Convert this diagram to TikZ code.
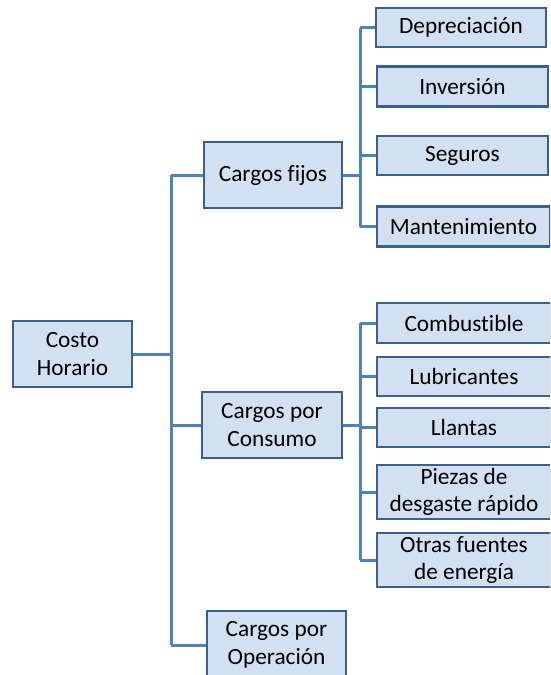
\documentclass[tikz,border=0pt]{standalone}
\usepackage{fontspec}
\setmainfont[Ligatures=NoCommon]{Carlito}
\definecolor{boxfill}{HTML}{D3E0F2}
\definecolor{boxdraw}{HTML}{3B6090}
\definecolor{conncol}{HTML}{4F81BD}
\begin{document}
\begin{tikzpicture}[x=1pt,y=1pt,
  box/.style={draw=boxdraw, fill=boxfill, line width=2.5pt, inner sep=0pt, align=center,
    font=\fontsize{23.3}{27.5}\selectfont, text=black},
  conn/.style={draw=conncol, line width=3pt}]
\useasboundingbox (0,0) rectangle (550,-675);
\begin{scope}
\clip (0,0) rectangle (550,-675);
% bus coordinates
\coordinate (mtop) at (171,-175);
\coordinate (mbot) at (171,-645);
\coordinate (ftop) at (360,-27.5);
\coordinate (fbot) at (360,-226.5);
\coordinate (ctop) at (360,-323);
\coordinate (cbot) at (360,-560);
% nodes
\node[box, minimum width=119pt, minimum height=66pt] (costo) at (72.5,-354) {Costo\\Horario};
\node[box, minimum width=138pt, minimum height=66pt] (fijos) at (273,-175) {Cargos fijos};
\node[box, minimum width=140pt, minimum height=66pt] (consumo) at (272,-425) {Cargos por\\Consumo};
\node[box, minimum width=139pt, minimum height=68pt] (operacion) at (276.5,-645) {Cargos por\\Operación};
\node[box, minimum width=170pt, minimum height=39pt] (dep) at (461,-27.5) {Depreciación};
\node[box, minimum width=171pt, minimum height=40pt] (inv) at (462.5,-86.5) {Inversión};
\node[box, minimum width=171pt, minimum height=39pt] (seg) at (462.5,-155.5) {Seguros};
\node[box, minimum width=173pt, minimum height=40pt] (man) at (463.5,-226.5) {Mantenimiento};
\node[box, minimum width=174pt, minimum height=40pt] (comb) at (464,-323) {Combustible};
\node[box, minimum width=174pt, minimum height=39pt] (lub) at (464,-376.5) {Lubricantes};
\node[box, minimum width=174pt, minimum height=39pt] (lla) at (464,-427.5) {Llantas};
\node[box, minimum width=174pt, minimum height=54pt] (pie) at (464,-492) {Piezas de\\desgaste rápido};
\node[box, minimum width=174pt, minimum height=54pt] (otr) at (464,-560) {Otras fuentes\\de energía};
% main bus
\draw[conn] (mtop) -- (mbot);
\draw[conn] (costo.east) -- (costo.east -| mtop);
\draw[conn] (fijos.west) -- (mtop);
\draw[conn] (consumo.west) -- (consumo.west -| mtop);
\draw[conn] (operacion.west) -- (mbot);
% fixed charges bus
\draw[conn] (ftop) -- (fbot);
\draw[conn] (fijos.east) -- (fijos.east -| ftop);
\draw[conn] (dep.west) -- (ftop);
\draw[conn] (inv.west) -- (inv.west -| ftop);
\draw[conn] (seg.west) -- (seg.west -| ftop);
\draw[conn] (man.west) -- (fbot);
% consumption bus
\draw[conn] (ctop) -- (cbot);
\draw[conn] (consumo.east) -- (consumo.east -| ctop);
\draw[conn] (comb.west) -- (ctop);
\draw[conn] (lub.west) -- (lub.west -| ctop);
\draw[conn] (lla.west) -- (lla.west -| ctop);
\draw[conn] (pie.west) -- (pie.west -| ctop);
\draw[conn] (otr.west) -- (cbot);
\end{scope}
\end{tikzpicture}
\end{document}
